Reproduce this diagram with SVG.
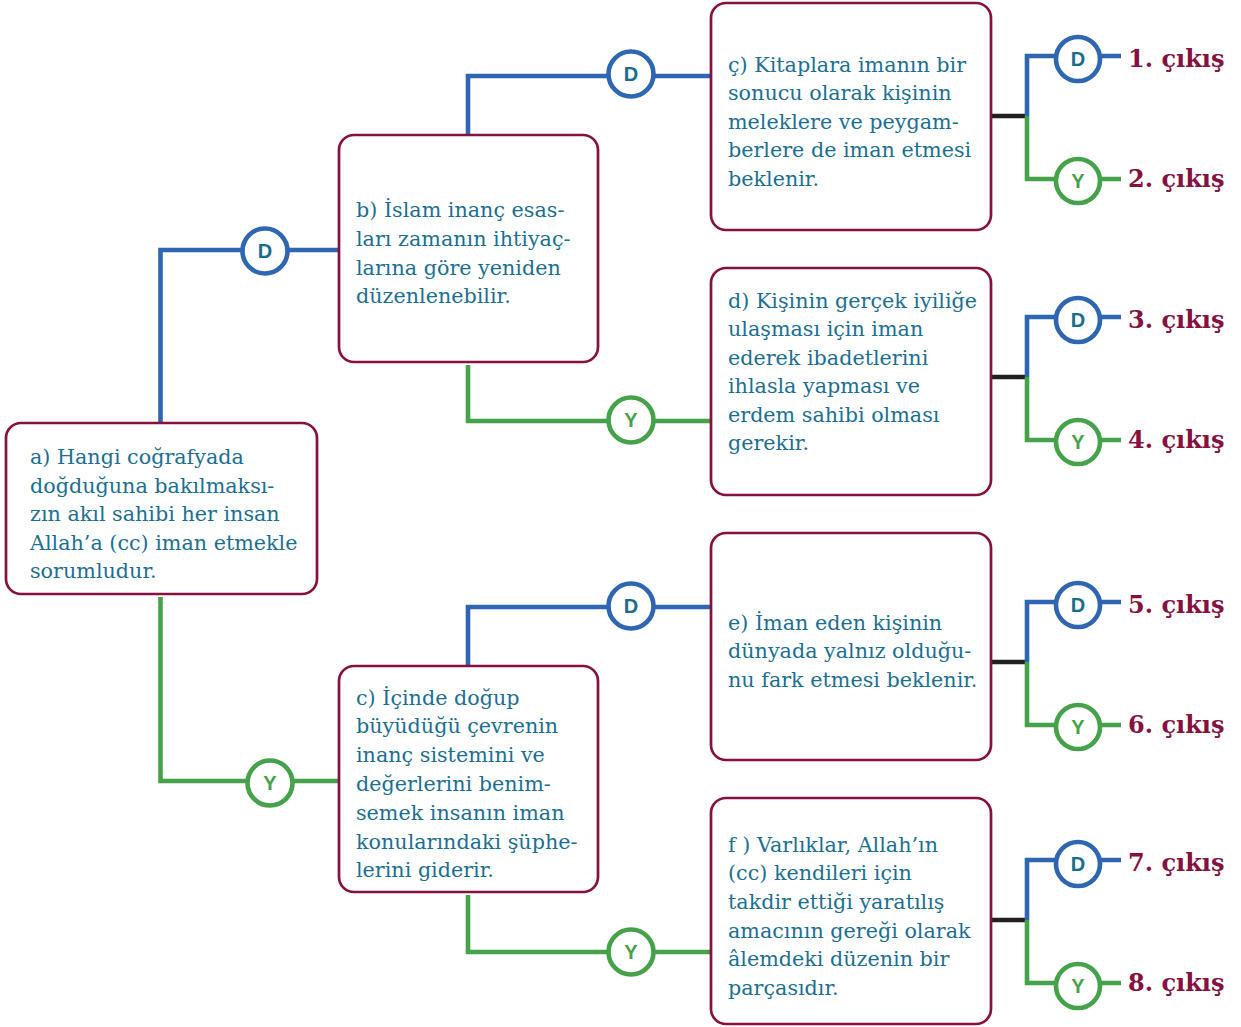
<svg xmlns="http://www.w3.org/2000/svg" width="1241" height="1027" viewBox="0 0 1241 1027">
<style>
.box{fill:#fff;stroke:#86103F;stroke-width:2.7}
.bt{font-family:"DejaVu Serif","Liberation Serif",serif;font-size:20.7px;fill:#1B6F91}
.bl{fill:none;stroke:#2F66B1;stroke-width:4.6}
.gl{fill:none;stroke:#45A24B;stroke-width:4.6}
.kl{fill:none;stroke:#231F20;stroke-width:4.6}
.bc{fill:#fff;stroke:#2F66B1;stroke-width:4.6}
.gc{fill:#fff;stroke:#45A24B;stroke-width:4.6}
.dl{font-family:"Liberation Sans",Arial,sans-serif;font-size:20px;font-weight:bold;fill:#176D8C;text-anchor:middle}
.yl{font-family:"Liberation Sans",Arial,sans-serif;font-size:20px;font-weight:bold;fill:#45A24B;text-anchor:middle}
.ex{font-family:"DejaVu Serif","Liberation Serif",serif;font-size:24px;font-weight:bold;fill:#86103F}
</style>
<g id="connectors">
<path class="bl" d="M160.5 423 V250 H339"/>
<path class="gl" d="M160.5 597 V781 H339"/>
<path class="bl" d="M468 135 V76 H711"/>
<path class="gl" d="M468 365 V421 H711"/>
<path class="bl" d="M468 666 V607 H711"/>
<path class="gl" d="M468 895 V952 H711"/>
<path class="kl" d="M991 116 H1027"/>
<path class="bl" d="M1027 116 V56 H1121"/>
<path class="gl" d="M1027 116 V179 H1121"/>
<path class="kl" d="M991 377 H1027"/>
<path class="bl" d="M1027 377 V317 H1121"/>
<path class="gl" d="M1027 377 V440 H1121"/>
<path class="kl" d="M991 662 H1027"/>
<path class="bl" d="M1027 662 V602 H1121"/>
<path class="gl" d="M1027 662 V725 H1121"/>
<path class="kl" d="M991 920 H1027"/>
<path class="bl" d="M1027 920 V860 H1121"/>
<path class="gl" d="M1027 920 V983 H1121"/>
</g>
<g id="labels">
<circle class="bc" cx="265" cy="251" r="22.5"/><text class="dl" x="265" y="258">D</text>
<circle class="gc" cx="270" cy="783" r="22.5"/><text class="yl" x="270" y="790">Y</text>
<circle class="bc" cx="631" cy="74" r="22.5"/><text class="dl" x="631" y="81">D</text>
<circle class="gc" cx="631" cy="420" r="22.5"/><text class="yl" x="631" y="427">Y</text>
<circle class="bc" cx="631" cy="606" r="22.5"/><text class="dl" x="631" y="613">D</text>
<circle class="gc" cx="631" cy="952" r="22.5"/><text class="yl" x="631" y="959">Y</text>
<circle class="bc" cx="1078" cy="59" r="22"/><text class="dl" x="1078" y="66">D</text>
<circle class="gc" cx="1078" cy="181" r="22"/><text class="yl" x="1078" y="188">Y</text>
<circle class="bc" cx="1078" cy="320" r="22"/><text class="dl" x="1078" y="327">D</text>
<circle class="gc" cx="1078" cy="442" r="22"/><text class="yl" x="1078" y="449">Y</text>
<circle class="bc" cx="1078" cy="605" r="22"/><text class="dl" x="1078" y="612">D</text>
<circle class="gc" cx="1078" cy="727" r="22"/><text class="yl" x="1078" y="734">Y</text>
<circle class="bc" cx="1078" cy="864" r="22"/><text class="dl" x="1078" y="871">D</text>
<circle class="gc" cx="1078" cy="986" r="22"/><text class="yl" x="1078" y="993">Y</text>
</g>
<g id="node-a">
<rect class="box" x="6" y="423" width="311" height="171" rx="15"/>
<text class="bt" x="30" y="464"><tspan x="30">a) Hangi coğrafyada</tspan><tspan x="30" dy="28.5">doğduğuna bakılmaksı-</tspan><tspan x="30" dy="28.5">zın akıl sahibi her insan</tspan><tspan x="30" dy="28.5">Allah’a (cc) iman etmekle</tspan><tspan x="30" dy="28.5">sorumludur.</tspan></text>
</g>
<g id="node-b">
<rect class="box" x="339" y="135" width="259" height="227" rx="15"/>
<text class="bt" x="356" y="217"><tspan x="356">b) İslam inanç esas-</tspan><tspan x="356" dy="28.8">ları zamanın ihtiyaç-</tspan><tspan x="356" dy="28.8">larına göre yeniden</tspan><tspan x="356" dy="28.8">düzenlenebilir.</tspan></text>
</g>
<g id="node-c">
<rect class="box" x="339" y="666" width="259" height="226" rx="15"/>
<text class="bt" x="356" y="704.5"><tspan x="356">c) İçinde doğup</tspan><tspan x="356" dy="28.8">büyüdüğü çevrenin</tspan><tspan x="356" dy="28.8">inanç sistemini ve</tspan><tspan x="356" dy="28.8">değerlerini benim-</tspan><tspan x="356" dy="28.8">semek insanın iman</tspan><tspan x="356" dy="28.8">konularındaki şüphe-</tspan><tspan x="356" dy="28.8">lerini giderir.</tspan></text>
</g>
<g id="node-cc">
<rect class="box" x="711" y="3" width="280" height="227" rx="15"/>
<text class="bt" x="728" y="71.5"><tspan x="728">ç) Kitaplara imanın bir</tspan><tspan x="728" dy="28.5">sonucu olarak kişinin</tspan><tspan x="728" dy="28.5">meleklere ve peygam-</tspan><tspan x="728" dy="28.5">berlere de iman etmesi</tspan><tspan x="728" dy="28.5">beklenir.</tspan></text>
</g>
<g id="node-d">
<rect class="box" x="711" y="268" width="280" height="227" rx="15"/>
<text class="bt" x="728" y="307.5"><tspan x="728">d) Kişinin gerçek iyiliğe</tspan><tspan x="728" dy="28.5">ulaşması için iman</tspan><tspan x="728" dy="28.5">ederek ibadetlerini</tspan><tspan x="728" dy="28.5">ihlasla yapması ve</tspan><tspan x="728" dy="28.5">erdem sahibi olması</tspan><tspan x="728" dy="28.5">gerekir.</tspan></text>
</g>
<g id="node-e">
<rect class="box" x="711" y="533" width="280" height="227" rx="15"/>
<text class="bt" x="728" y="629.5"><tspan x="728">e) İman eden kişinin</tspan><tspan x="728" dy="28.7">dünyada yalnız olduğu-</tspan><tspan x="728" dy="28.7">nu fark etmesi beklenir.</tspan></text>
</g>
<g id="node-f">
<rect class="box" x="711" y="798" width="280" height="226" rx="15"/>
<text class="bt" x="728" y="851.5"><tspan x="728">f ) Varlıklar, Allah’ın</tspan><tspan x="728" dy="28.7">(cc) kendileri için</tspan><tspan x="728" dy="28.7">takdir ettiği yaratılış</tspan><tspan x="728" dy="28.7">amacının gereği olarak</tspan><tspan x="728" dy="28.7">âlemdeki düzenin bir</tspan><tspan x="728" dy="28.7">parçasıdır.</tspan></text>
</g>
<g id="exits">
<text class="ex" x="1128" y="67">1. çıkış</text>
<text class="ex" x="1128" y="187">2. çıkış</text>
<text class="ex" x="1128" y="328">3. çıkış</text>
<text class="ex" x="1128" y="448">4. çıkış</text>
<text class="ex" x="1128" y="613">5. çıkış</text>
<text class="ex" x="1128" y="733">6. çıkış</text>
<text class="ex" x="1128" y="871">7. çıkış</text>
<text class="ex" x="1128" y="991">8. çıkış</text>
</g>
</svg>
